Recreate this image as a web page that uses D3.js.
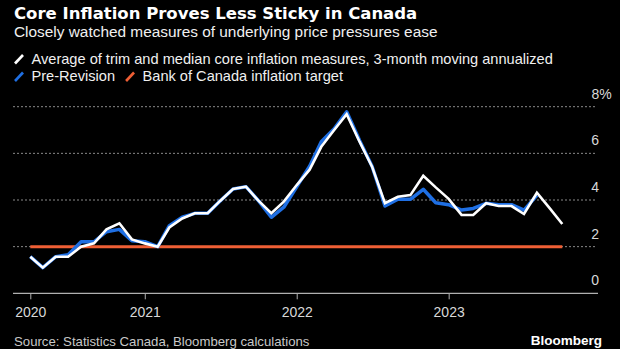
<!DOCTYPE html>
<html>
<head>
<meta charset="utf-8">
<script src="https://cdn.jsdelivr.net/npm/d3@7"></script>
<style>
    body { margin: 0; background: #000; }
    svg { display: block; }
    text { font-family: "Liberation Sans", Arial, sans-serif; }
</style>
</head>
<body>
<div id="chart"></div>
<script>

// monthly readings, Apr 2020 .. Oct 2023
let startMonth = new Date(2020, 3, 1);
let coreAvg = [1.57, 1.10, 1.57, 1.57, 2.00, 2.14, 2.74, 3.00, 2.31, 2.14, 2.00, 2.82,
    3.21, 3.43, 3.43, 3.96, 4.47, 4.57, 3.97, 3.43, 3.93, 4.64, 5.30, 6.28,
    7.00, 7.68, 6.50, 5.43, 3.86, 4.14, 4.21, 5.04, 4.54, 4.05, 3.36, 3.36,
    3.86, 3.74, 3.74, 3.40, 4.31, 3.64, 2.97];
// pre-revision series stops at Aug 2023
let preRevision = [1.57, 1.10, 1.57, 1.65, 2.21, 2.21, 2.64, 2.74, 2.25, 2.21, 2.00, 2.90,
    3.26, 3.43, 3.43, 3.96, 4.47, 4.57, 3.97, 3.26, 3.69, 4.57, 5.45, 6.50,
    7.05, 7.78, 6.55, 5.45, 3.74, 4.03, 4.03, 4.46, 3.88, 3.80, 3.57, 3.64,
    3.86, 3.80, 3.80, 3.57, 4.20];
let target = 2;

let yTicks = [0, 2, 4, 6, 8];
let xTickDates = [new Date(2020, 3, 1), new Date(2021, 0, 1), new Date(2022, 0, 1), new Date(2023, 0, 1)];

let legendItems = [
    {label: 'Average of trim and median core inflation measures, 3-month moving annualized', color: '#ffffff'},
    {label: 'Pre-Revision', color: '#1f6fe3'},
    {label: 'Bank of Canada inflation target', color: '#ef5f35'}
];

const W = 620, H = 349;

function monthDate(i){
    return new Date(startMonth.getFullYear(), startMonth.getMonth() + i, 1);
}

function toPoints(values){
    return values.map(function(v, i){ return {date: monthDate(i), value: v}; });
}

function draw(){
    let svg = d3.select('#chart').append('svg')
        .attr('width', W)
        .attr('height', H)
        .style('background', '#000');

    let coreData = toPoints(coreAvg);
    let preData = toPoints(preRevision);
    let lastDate = coreData[coreData.length - 1].date;

    let x = d3.scaleTime()
        .domain([coreData[0].date, lastDate])
        .range([30.3, 562.3]);

    let y = d3.scaleLinear()
        .domain([0, 8])
        .range([293.3, 106.7]);

    // header
    svg.append('text')
        .attr('x', 14).attr('y', 18.5)
        .attr('fill', '#fff')
        .attr('font-size', 16.5)
        .attr('font-weight', 'bold')
        .style('font-family', '"DejaVu Sans", sans-serif')
        .text('Core Inflation Proves Less Sticky in Canada');

    svg.append('text')
        .attr('x', 14).attr('y', 36.5)
        .attr('fill', '#f0f0f0')
        .attr('font-size', 15.4)
        .text('Closely watched measures of underlying price pressures ease');

    setLegend(svg);

    // dotted grid
    svg.append('g').selectAll('line')
        .data(yTicks.filter(function(t){ return t > 0; }))
        .enter()
        .append('line')
        .attr('x1', 13).attr('x2', 597)
        .attr('y1', function(d){ return y(d); })
        .attr('y2', function(d){ return y(d); })
        .attr('stroke', '#8a8a8a')
        .attr('stroke-width', 1)
        .attr('stroke-dasharray', '2,2');

    let yLabels = svg.append('g').selectAll('text')
        .data(yTicks)
        .enter()
        .append('text')
        .attr('x', 599)
        .attr('y', function(d){ return y(d) - 8; })
        .attr('text-anchor', 'end')
        .attr('fill', '#d8d8d8')
        .attr('font-size', 14)
        .text(function(d){ return d; });

    // the top label carries the unit, hanging past the column
    yLabels.filter(function(d){ return d === 8; })
        .append('tspan')
        .text('%');
    yLabels.filter(function(d){ return d === 8; })
        .attr('text-anchor', 'start')
        .attr('x', 591.5);

    // x axis
    svg.append('line')
        .attr('x1', 13).attr('x2', 598)
        .attr('y1', y(0)).attr('y2', y(0))
        .attr('stroke', '#b0b0b0')
        .attr('stroke-width', 1.2);

    let xAxis = d3.axisBottom(x)
        .tickValues(xTickDates)
        .tickSize(6)
        .tickFormat(d3.timeFormat('%Y'));

    let gx = svg.append('g')
        .attr('transform', `translate(0,${y(0)})`)
        .call(xAxis);
    gx.select('.domain').remove();
    gx.selectAll('.tick line').attr('stroke', '#b0b0b0');
    gx.selectAll('.tick text')
        .attr('fill', '#d8d8d8')
        .attr('font-size', 14)
        .attr('dy', null)
        .attr('y', 24)
        .style('font-family', '"Liberation Sans Narrow", "Liberation Sans", sans-serif');

    // target
    svg.append('line')
        .attr('x1', x(coreData[0].date)).attr('x2', x(lastDate))
        .attr('y1', y(target)).attr('y2', y(target))
        .attr('stroke', legendItems[2].color)
        .attr('stroke-width', 3);

    let line = d3.line()
        .x(function(d){ return x(d.date); })
        .y(function(d){ return y(d.value); });

    svg.append('path')
        .datum(preData)
        .attr('d', line)
        .attr('fill', 'none')
        .attr('stroke', legendItems[1].color)
        .attr('stroke-width', 3.5)
        .attr('stroke-linejoin', 'round');

    svg.append('path')
        .datum(coreData)
        .attr('d', line)
        .attr('fill', 'none')
        .attr('stroke', legendItems[0].color)
        .attr('stroke-width', 2.6)
        .attr('stroke-linejoin', 'miter');

    // footer
    svg.append('text')
        .attr('x', 14).attr('y', 345.5)
        .attr('fill', '#c8c8c8')
        .attr('font-size', 13.2)
        .text('Source: Statistics Canada, Bloomberg calculations');

    svg.append('text')
        .attr('x', 602).attr('y', 345)
        .attr('text-anchor', 'end')
        .attr('fill', '#fff')
        .attr('font-size', 13.5)
        .attr('font-weight', 'bold')
        .text('Bloomberg');
}

/**
 * Legend: a short slanted stroke in the series colour before each label.
 * First entry on its own row, the other two share the second row.
 */
function setLegend(svg){
    let rows = [
        {items: [legendItems[0]], y: 63.5},
        {items: [legendItems[1], legendItems[2]], y: 81}
    ];
    rows.forEach(function(row){
        let cx = 15;
        row.items.forEach(function(item){
            svg.append('line')
                .attr('x1', cx).attr('y1', row.y)
                .attr('x2', cx + 8).attr('y2', row.y - 8.5)
                .attr('stroke', item.color)
                .attr('stroke-width', 2.6);
            let t = svg.append('text')
                .attr('x', cx + 16.5).attr('y', row.y)
                .attr('fill', '#f0f0f0')
                .attr('font-size', 14.6)
                .text(item.label);
            cx = cx + 16.5 + t.node().getComputedTextLength() + 11;
        });
    });
}

draw();
</script>
</body>
</html>
